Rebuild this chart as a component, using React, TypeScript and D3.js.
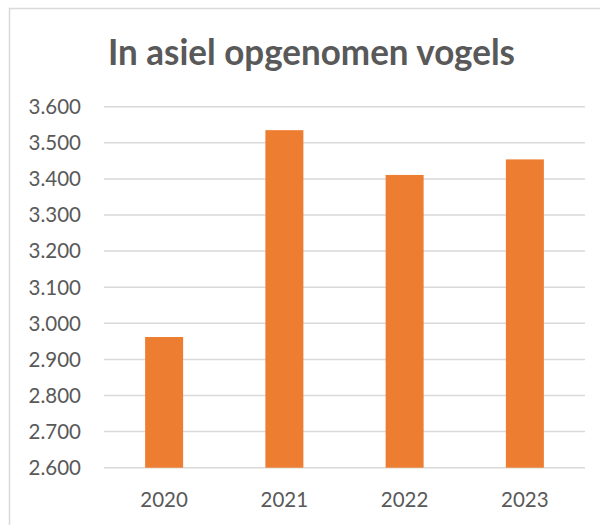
import React from "react";
import * as d3 from "d3";

const years = ["2020", "2021", "2022", "2023"];
const values = [2962, 3535, 3411, 3454];
const yTicks = [2600, 2700, 2800, 2900, 3000, 3100, 3200, 3300, 3400, 3500, 3600];
const title = "In asiel opgenomen vogels";

const W = 600;
const H = 525;

export default function App() {
  const x = d3.scaleBand<string>().domain(years).range([104, 585]).paddingInner(0.684).paddingOuter(0.342);
  const y = d3.scaleLinear().domain([2600, 3600]).range([467.7, 106.7]);
  const fmt = (v: number) => d3.format(",.0f")(v).replace(/,/g, ".");
  const font = "Lato, 'Open Sans', sans-serif";
  return (
    <svg width={W} height={H} style={{ position: "absolute", left: 0, top: 0, background: "#fff" }}>
      <rect x={0} y={0} width={W} height={H} fill="#fff" />
      <rect x={9.5} y={8.5} width={W + 20} height={H + 20} fill="#fff" stroke="#D9D9D9" strokeWidth={1.5} />
      <text x={311.5} y={64.7} textAnchor="middle" fontFamily={font} fontWeight={700} fontSize={36} fill="#595959" textLength={407} lengthAdjust="spacingAndGlyphs">
        {title}
      </text>
      {yTicks.map((t) => (
        <g key={t}>
          <line x1={104} x2={585} y1={y(t)} y2={y(t)} stroke="#D9D9D9" strokeWidth={1.5} />
          <text x={81} y={y(t)} dy="0.36em" textAnchor="end" fontFamily={font} fontSize={20.5} fill="#595959">
            {fmt(t)}
          </text>
        </g>
      ))}
      {years.map((yr, i) => (
        <rect key={yr} x={x(yr)} y={y(values[i])} width={x.bandwidth()} height={y(2600) - y(values[i])} fill="#ED7D31" />
      ))}
      {years.map((yr) => (
        <text key={yr} x={(x(yr) as number) + x.bandwidth() / 2} y={500} dy="0.36em" textAnchor="middle" fontFamily={font} fontSize={20.5} fill="#595959">
          {yr}
        </text>
      ))}
    </svg>
  );
}
